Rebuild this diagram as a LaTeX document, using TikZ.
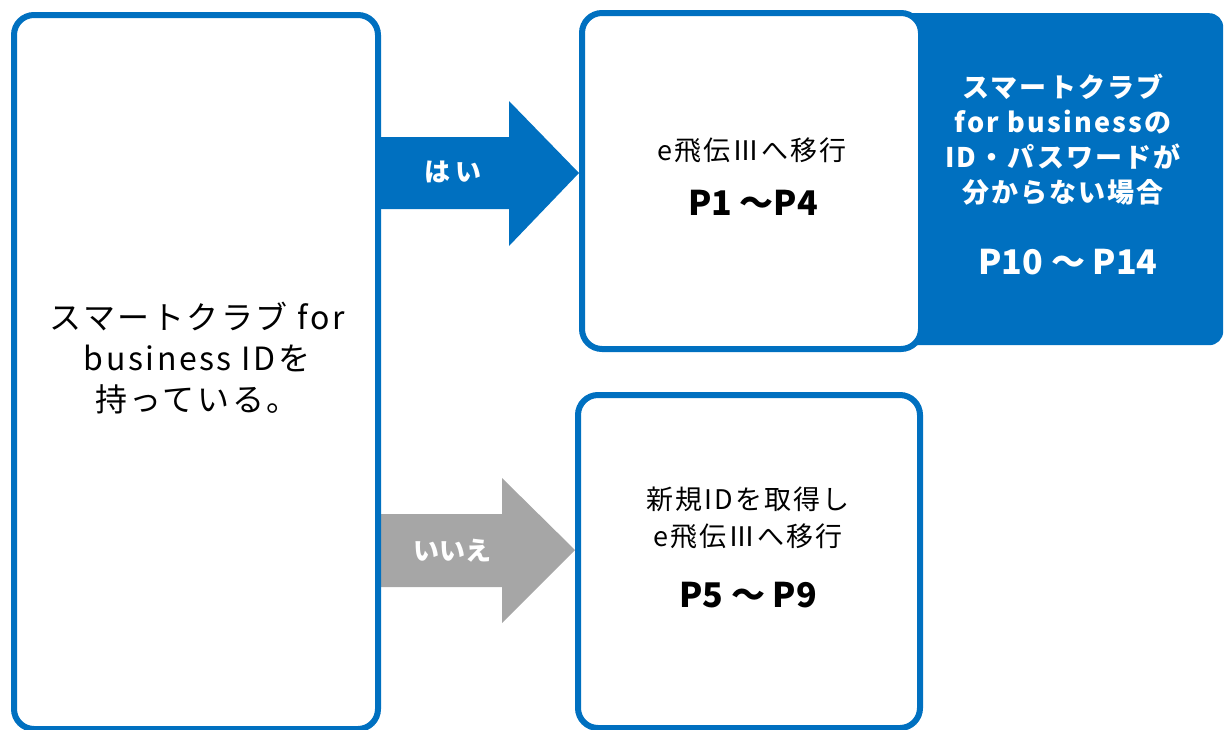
\documentclass[tikz,border=0pt]{standalone}
\usepackage{fontspec}
\setmainfont{Noto Sans CJK JP}
\newfontfamily\cjk{Noto Sans CJK JP}
\newfontfamily\cjkw{Noto Sans CJK JP}[LetterSpace=8]
\definecolor{mblue}{HTML}{0070C0}
\definecolor{mgray}{HTML}{A6A6A6}
\tikzset{
  framebox/.style={draw=mblue, line width=6pt, fill=white, rounded corners=20pt, anchor=north west, inner sep=0pt},
  solidbox/.style={fill=mblue, draw=none, rounded corners=14pt, anchor=north west, inner sep=0pt},
  plain/.style={inner sep=0pt, align=center, text=black},
}
\begin{document}
\begin{tikzpicture}[x=1pt,y=-1pt]
\useasboundingbox (0,0) rectangle (1228,729);
% arrows (drawn first, under boxes)
\fill[mblue] (376,137) -- (509,137) -- (509,101) -- (579,173) -- (509,246) -- (509,209) -- (376,209) -- cycle;
\fill[mgray] (376,514) -- (502,514) -- (502,478) -- (575,550) -- (502,623) -- (502,587) -- (376,587) -- cycle;
\node[font=\cjk\bfseries\fontsize{26}{30}\selectfont, text=white, inner sep=0pt] (yes) at (453,172) {は\hspace{6pt}い};
\node[font=\cjk\bfseries\fontsize{26}{30}\selectfont, text=white, inner sep=0pt] (no) at (452,551) {いいえ};
% right filled box
\node[solidbox, minimum width=343pt, minimum height=332pt] (lost) at (880,13) {};
% boxes
\node[framebox, minimum width=364pt, minimum height=714pt] (q) at (11,12) {};
\node[framebox, minimum width=339pt, minimum height=336pt] (yesbox) at (579,10) {};
\node[framebox, minimum width=342pt, minimum height=333pt] (nobox) at (575,392) {};
% texts
\node[plain, font=\cjkw\fontsize{32}{41}\selectfont] at (197,358) {スマートクラブ for\\business IDを\\持っている。};
\node[plain, font=\cjkw\fontsize{27}{30}\selectfont] at (752,150) {e飛伝Ⅲへ移行};
\node[plain, font=\cjk\bfseries\fontsize{34}{40}\selectfont] at (753,203) {P1 ～P4};
\node[plain, font=\cjkw\fontsize{27}{37}\selectfont] at (748,518) {新規IDを取得し\\e飛伝Ⅲへ移行};
\node[plain, font=\cjk\bfseries\fontsize{34}{40}\selectfont] at (748,595) {P5 ～ P9};
\node[plain, text=white, font=\cjkw\bfseries\fontsize{27}{35}\selectfont] at (1063,140) {スマートクラブ\\for businessの\\ID・パスワードが\\分からない場合};
\node[plain, text=white, font=\cjk\bfseries\fontsize{34}{40}\selectfont] at (1068,262) {P10 ～ P14};
\end{tikzpicture}
\end{document}
